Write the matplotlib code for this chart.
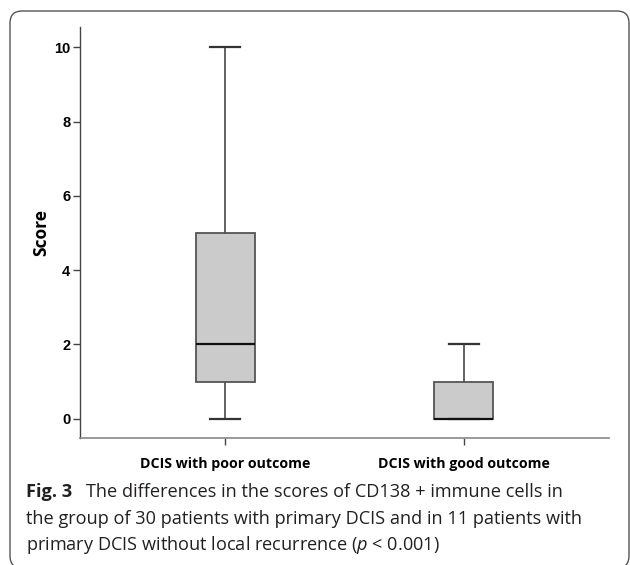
import matplotlib
matplotlib.use("Agg")
import matplotlib.pyplot as plt
from matplotlib.patches import FancyBboxPatch

# five-number summaries
groups = ["DCIS with poor outcome", "DCIS with good outcome"]
whislo = [0, 0]
q1 = [1, 0]
med = [2, 0]
q3 = [5, 1]
whishi = [10, 2]
yticks = [0, 2, 4, 6, 8, 10]

plt.rcParams['mathtext.fontset'] = 'custom'
plt.rcParams['mathtext.it'] = 'Open Sans:italic'
plt.rcParams['mathtext.rm'] = 'Open Sans'

fig = plt.figure(figsize=(6.3, 5.65), dpi=100)
ax = fig.add_axes([80/630, 1-438/565, (609-80)/630, (438-27)/565])

stats = []
for i in range(len(groups)):
    stats.append(dict(whislo=whislo[i], q1=q1[i], med=med[i], q3=q3[i],
                      whishi=whishi[i], fliers=[], label=groups[i]))

ax.bxp(stats, positions=[1, 2], widths=0.25, patch_artist=True, showfliers=False,
       boxprops=dict(facecolor='#cbcbcb', edgecolor='#555555', linewidth=1.3),
       medianprops=dict(color='#111111', linewidth=1.6),
       whiskerprops=dict(color='#555555', linewidth=1.3),
       capprops=dict(color='#333333', linewidth=1.6),
       capwidths=0.125)

ax.set_xlim(0.39, 2.61)
ax.set_ylim(-0.52, 10.55)
ax.set_yticks(yticks)
ax.set_yticklabels([str(t) for t in yticks], fontfamily='Liberation Sans',
                   fontweight='bold', fontsize=10.5)
ax.set_xticks([1, 2])
ax.set_xticklabels(groups, fontfamily='Open Sans', fontweight='bold', fontsize=10.2)
ax.tick_params(axis='y', length=5, width=1, color='#444444', pad=2)
ax.tick_params(axis='x', length=5, width=1, color='#444444', pad=8.5)
ax.set_ylabel("Score", fontfamily='Open Sans', fontweight='bold', fontsize=12.5, labelpad=2.5)

for s in ['top', 'right']:
    ax.spines[s].set_visible(False)
ax.spines['left'].set_color('#444444')
ax.spines['bottom'].set_color('#888888')
ax.spines['left'].set_linewidth(1)
ax.spines['bottom'].set_linewidth(1.2)

# caption
cap_kw = dict(fontfamily='Open Sans', fontsize=13.1, color='#231f20', va='baseline')
fig.text(26/630, 1-497/565, "Fig. 3", fontweight='bold', **cap_kw)
fig.text(86/630, 1-497/565, "The differences in the scores of CD138 + immune cells in", **cap_kw)
fig.text(26/630, 1-523.5/565, "the group of 30 patients with primary DCIS and in 11 patients with", **cap_kw)
fig.text(26/630, 1-550/565, r"primary DCIS without local recurrence ($\it{p}$ < 0.001)", **cap_kw)

# rounded frame
frame = FancyBboxPatch((0.10, -0.03), 6.19, 5.57, boxstyle="round,pad=0,rounding_size=0.12",
                       transform=fig.dpi_scale_trans, facecolor='none',
                       edgecolor='#555555', linewidth=1, clip_on=False)
fig.patches.append(frame)

fig.savefig("out.png", dpi=100)
